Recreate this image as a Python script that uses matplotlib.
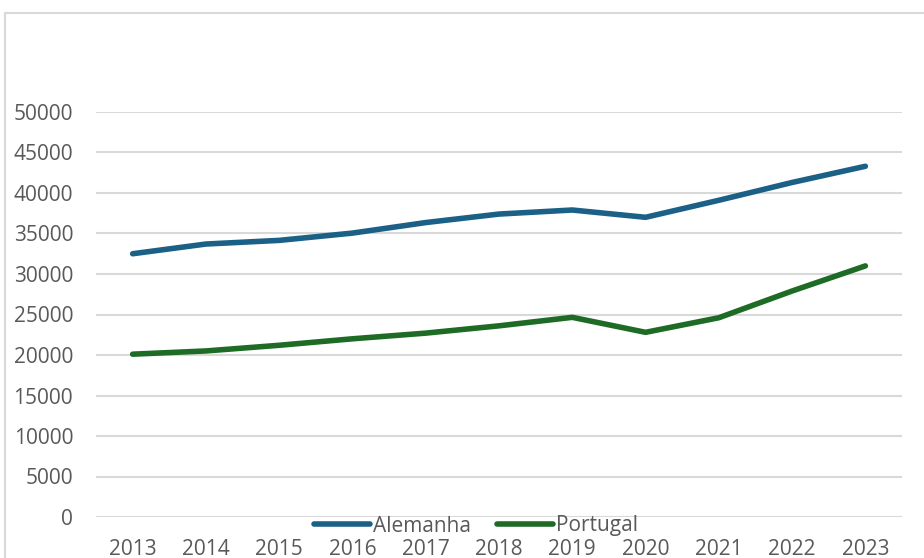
import matplotlib
matplotlib.use("Agg")
import matplotlib.pyplot as plt
from matplotlib.patches import Rectangle

years = ["2013", "2014", "2015", "2016", "2017", "2018", "2019", "2020", "2021", "2022", "2023"]
alemanha = [32500, 33700, 34150, 35050, 36350, 37400, 37900, 37000, 39100, 41300, 43300]
portugal = [20100, 20500, 21200, 22000, 22700, 23600, 24650, 22800, 24600, 27900, 31000]
yticks = list(range(0, 50001, 5000))

plt.rcParams['font.family'] = ['Open Sans', 'DejaVu Sans']

W, H = 924, 558
fig = plt.figure(figsize=(W / 100, H / 100), dpi=100)
fig.patches.append(Rectangle((5 / W, -0.05), 1.2, 1 - 13 / H + 0.05, transform=fig.transFigure,
                             fill=False, edgecolor='#d9d9d9', linewidth=1.5))

ax = fig.add_axes([96 / W, 1 - 517 / H, (902 - 96) / W, (517 - 112) / H])
x = list(range(len(years)))
ax.plot(x, alemanha, color='#1B6087', linewidth=4, solid_capstyle='round', label='Alemanha', zorder=3)
ax.plot(x, portugal, color='#1E6B26', linewidth=4, solid_capstyle='round', label='Portugal', zorder=3)

ax.set_xlim(-0.5, len(years) - 0.5)
ax.set_ylim(0, 50000)
ax.set_yticks(yticks)
ax.set_yticklabels([str(v) for v in yticks])
ax.set_xticks(x)
ax.set_xticklabels(years)
ax.grid(axis='y', color='#d9d9d9', linewidth=1.5)
ax.set_axisbelow(True)
for s in ax.spines.values():
    s.set_visible(False)
ax.tick_params(axis='both', length=0, labelsize=15, colors='#595959')
ax.tick_params(axis='y', pad=16.5)
ax.tick_params(axis='x', pad=15.5)

fig.legend(loc='center', bbox_to_anchor=(476 / W, 1 - 526 / H), ncol=2, frameon=False,
           fontsize=15, labelcolor='#595959', handlelength=2.7, handletextpad=0.15,
           columnspacing=1.25, borderpad=0, borderaxespad=0)

fig.savefig('out.png', dpi=100)
